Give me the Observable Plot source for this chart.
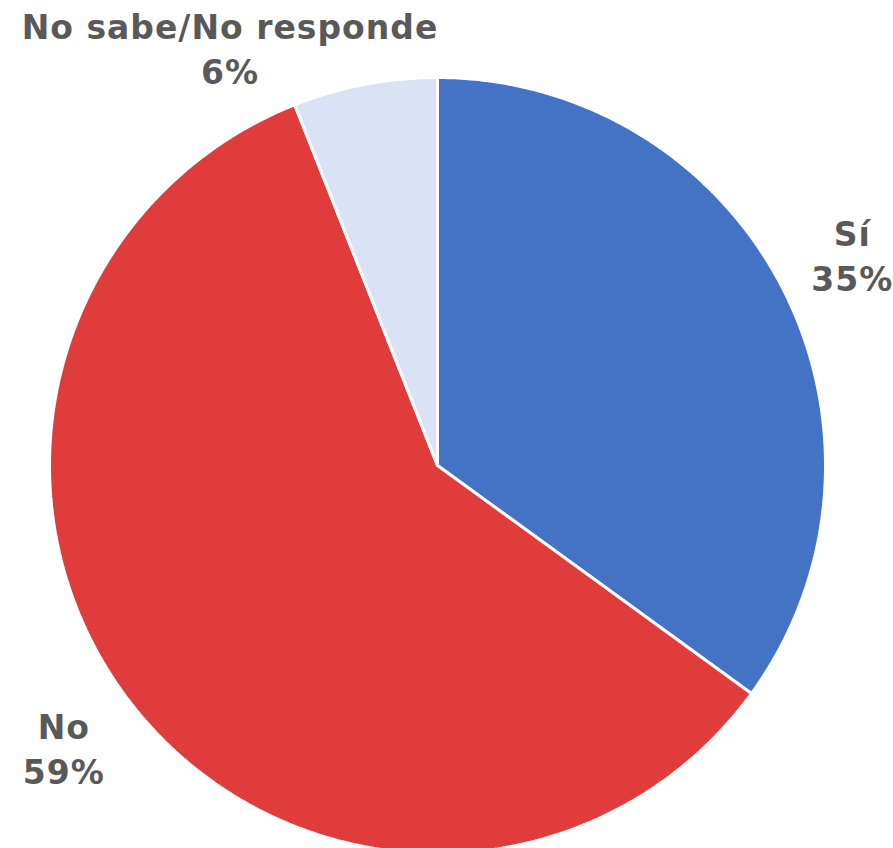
<!DOCTYPE html>
<html>
<head>
<meta charset="utf-8">
<script src="https://cdn.jsdelivr.net/npm/d3@7"></script>
<script src="https://cdn.jsdelivr.net/npm/@observablehq/plot@0.6"></script>
<style>
  html, body { margin: 0; padding: 0; background: #fff; }
  #chart text { letter-spacing: 1px; }
</style>
</head>
<body>
<div id="chart"></div>
<script>
const categories = ["Sí", "No", "No sabe/No responde"];
const values = [35, 59, 6];
const labels = ["35%", "59%", "6%"];
const colors = ["#4472C4", "#E03C3C", "#DAE3F3"];

const W = 893, H = 848;
const cx = 437, cy = 465, R = 388;

const pie = d3.pie().sort(null).value(d => d.value)(
  categories.map((c, i) => ({name: c, value: values[i], label: labels[i]}))
);

// build slice outlines (unit circle coords, angle clockwise from top)
const pts = [];
for (const s of pie) {
  const name = s.data.name;
  pts.push({name, x: 0, y: 0});
  const n = Math.max(2, Math.ceil((s.endAngle - s.startAngle) / (Math.PI / 360)));
  for (let k = 0; k <= n; k++) {
    const a = s.startAngle + (s.endAngle - s.startAngle) * k / n;
    pts.push({name, x: Math.sin(a), y: Math.cos(a)});
  }
  pts.push({name, x: 0, y: 0});
}

const labelR = 1.2;
const nudges = {"Sí": [0, 0], "No": [-0.015, 0.01], "No sabe/No responde": [-0.31, -0.1]};
const labelData = pie.map(s => {
  const a = (s.startAngle + s.endAngle) / 2;
  const nd = nudges[s.data.name];
  return {
    text: s.data.name + "\n" + s.data.label,
    x: Math.sin(a) * labelR + nd[0],
    y: Math.cos(a) * labelR + nd[1]
  };
});

const chart = Plot.plot({
  width: W,
  height: H,
  margin: 0,
  x: {domain: [-1, 1], range: [cx - R, cx + R], axis: null},
  y: {domain: [-1, 1], range: [cy + R, cy - R], axis: null},
  color: {domain: categories, range: colors},
  marks: [
    Plot.line(pts, {
      x: "x", y: "y", z: "name",
      fill: "name", stroke: "#ffffff", strokeWidth: 3,
      strokeLinejoin: "miter", curve: "linear"
    }),
    Plot.text(labelData, {
      x: "x", y: "y", text: "text",
      fill: "#595959", fontSize: 33, fontWeight: "bold",
      fontFamily: "DejaVu Sans", lineHeight: 1.38, textAnchor: "middle"
    })
  ]
});
document.getElementById("chart").appendChild(chart);
</script>
</body>
</html>
